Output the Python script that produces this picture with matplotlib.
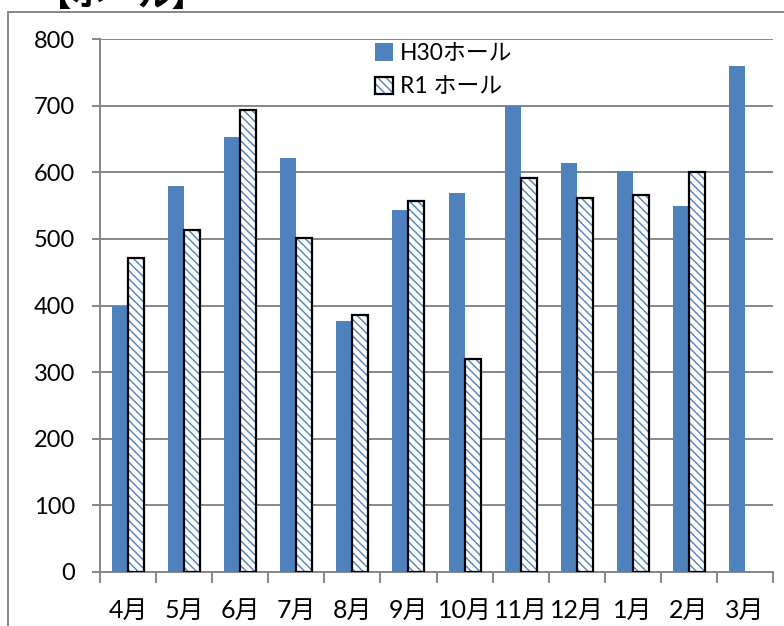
import matplotlib
matplotlib.use("Agg")
from matplotlib import pyplot as plt
from matplotlib.patches import Rectangle, Patch
from matplotlib.legend_handler import HandlerTuple
import numpy as np

plt.rcParams['font.family'] = ['Lato', 'Noto Sans CJK JP', 'DejaVu Sans']

# データ
months = ['4月', '5月', '6月', '7月', '8月', '9月', '10月', '11月', '12月', '1月', '2月', '3月']
h30 = [400, 580, 653, 622, 377, 543, 569, 700, 614, 602, 550, 759]
r1 = [472, 513, 694, 501, 385, 557, 319, 592, 561, 566, 601, None]
series_names = ['H30ホール', 'R1 ホール']

blue = '#4f81bd'
grey = '#868686'

fig = plt.figure(figsize=(7.84, 6.26), dpi=100)
ax = fig.add_axes([100/784, 1 - 572/626, 673/784, 533/626])

x = np.arange(len(months))
w = 0.286
ax.bar(x - w/2, h30, width=w, color=blue, zorder=3)
r1_x = [xi + w/2 for xi, v in zip(x, r1) if v is not None]
r1_v = [v for v in r1 if v is not None]
ax.bar(r1_x, r1_v, width=w, facecolor='white', edgecolor=blue,
       hatch='\\\\\\\\', linewidth=0, zorder=3)
ax.bar(r1_x, r1_v, width=w, fill=False, edgecolor='black',
       linewidth=1.6, zorder=4)

ax.set_xlim(-0.5, len(months) - 0.5)
ax.set_ylim(0, 800)
ax.set_yticks(range(0, 801, 100))
ax.yaxis.grid(True, color=grey, linewidth=1.4, zorder=0)
ax.set_axisbelow(True)

ax.set_xticks(x)
ax.set_xticklabels(months, fontsize=18)
ax.set_xticks(np.arange(-0.5, len(months), 1), minor=True)
ax.tick_params(axis='x', which='major', length=0, pad=19)
ax.tick_params(axis='x', which='minor', length=8, width=1.4, color=grey)
ax.tick_params(axis='y', length=6, width=1.4, color=grey, labelsize=17, pad=12)

for s in ['top', 'right']:
    ax.spines[s].set_visible(False)
for s in ['left', 'bottom']:
    ax.spines[s].set_color(grey)
    ax.spines[s].set_linewidth(1.4)

# 凡例
h1 = Patch(facecolor=blue)
h2a = Patch(facecolor='white', edgecolor=blue, hatch='\\\\\\\\', linewidth=0)
h2b = Patch(fill=False, edgecolor='black', linewidth=1.6)
leg = ax.legend([h1, (h2a, h2b)], series_names,
                handler_map={tuple: HandlerTuple(ndivide=1, pad=0)},
                loc='upper left', bbox_to_anchor=(0.395, 1.01),
                frameon=False, fontsize=16.5, handlelength=0.8, handleheight=0.8,
                handletextpad=0.3, labelspacing=0.55, borderaxespad=0)
leg.set_zorder(10)

# グラフ枠とタイトル
fig.patches.append(Rectangle((8/784, -0.1), 1.0, 1.1 - 12/626,
                             transform=fig.transFigure, fill=False,
                             edgecolor=grey, linewidth=1.4))
fig.text(38/784, 1 - 11/626, '【ホール】', fontsize=24, weight='bold',
         va='bottom', ha='left')

fig.savefig('out.png', dpi=100)
